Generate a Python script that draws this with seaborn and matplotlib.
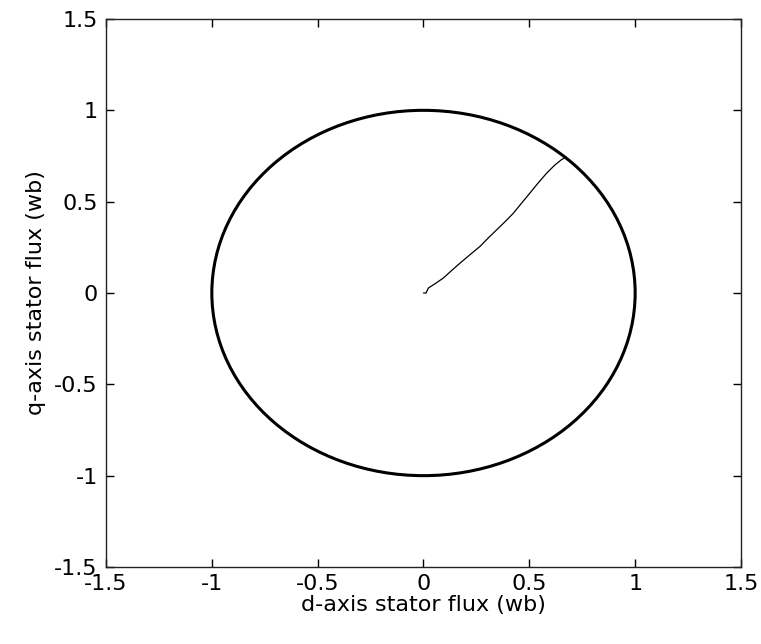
import matplotlib
matplotlib.use("Agg")
import matplotlib.pyplot as plt
import seaborn as sns
import pandas as pd

# steady-state stator flux circle (radius in wb)
flux_radius = 1.0

# start-up flux trajectory
d_flux = [0.0, 0.012, 0.023, 0.06, 0.094, 0.13, 0.172, 0.22, 0.267, 0.305,
          0.345, 0.385, 0.424, 0.462, 0.502, 0.54, 0.581, 0.62, 0.652, 0.675]
q_flux = [0.0, 0.0, 0.027, 0.055, 0.082, 0.12, 0.163, 0.21, 0.255, 0.30,
          0.345, 0.39, 0.436, 0.49, 0.546, 0.60, 0.655, 0.70, 0.730, 0.745]

ticks = [-1.5, -1, -0.5, 0, 0.5, 1, 1.5]
tick_labels = ["-1.5", "-1", "-0.5", "0", "0.5", "1", "1.5"]

sns.set_style("ticks")
plt.rcParams['font.family'] = ['DejaVu Sans']

fig = plt.figure(figsize=(7.61, 6.44), dpi=100)
ax = fig.add_axes([0.1393, 0.1196, 0.8344, 0.8509])

traj = pd.DataFrame({"d": d_flux, "q": q_flux})
sns.lineplot(data=traj, x="d", y="q", sort=False, color="black", linewidth=0.9, ax=ax)

ax.add_patch(plt.Circle((0, 0), flux_radius, fill=False, edgecolor="black", linewidth=2.2))

ax.set_xlim(-1.5, 1.5)
ax.set_ylim(-1.5, 1.5)
ax.set_xticks(ticks)
ax.set_xticklabels(tick_labels)
ax.set_yticks(ticks)
ax.set_yticklabels(tick_labels)
ax.tick_params(direction="in", length=6, width=1, colors="black", labelsize=16,
               top=True, right=True)
ax.tick_params(axis="x", pad=5)
ax.tick_params(axis="y", pad=6)
for sp in ax.spines.values():
    sp.set_visible(True)
    sp.set_color("#222222")
    sp.set_linewidth(1.0)

ax.set_xlabel("d-axis stator flux (wb)", fontsize=16, labelpad=1, color="black")
ax.set_ylabel("q-axis stator flux (wb)", fontsize=16, labelpad=6, color="black")

fig.savefig("out.png", dpi=100, facecolor="white")
